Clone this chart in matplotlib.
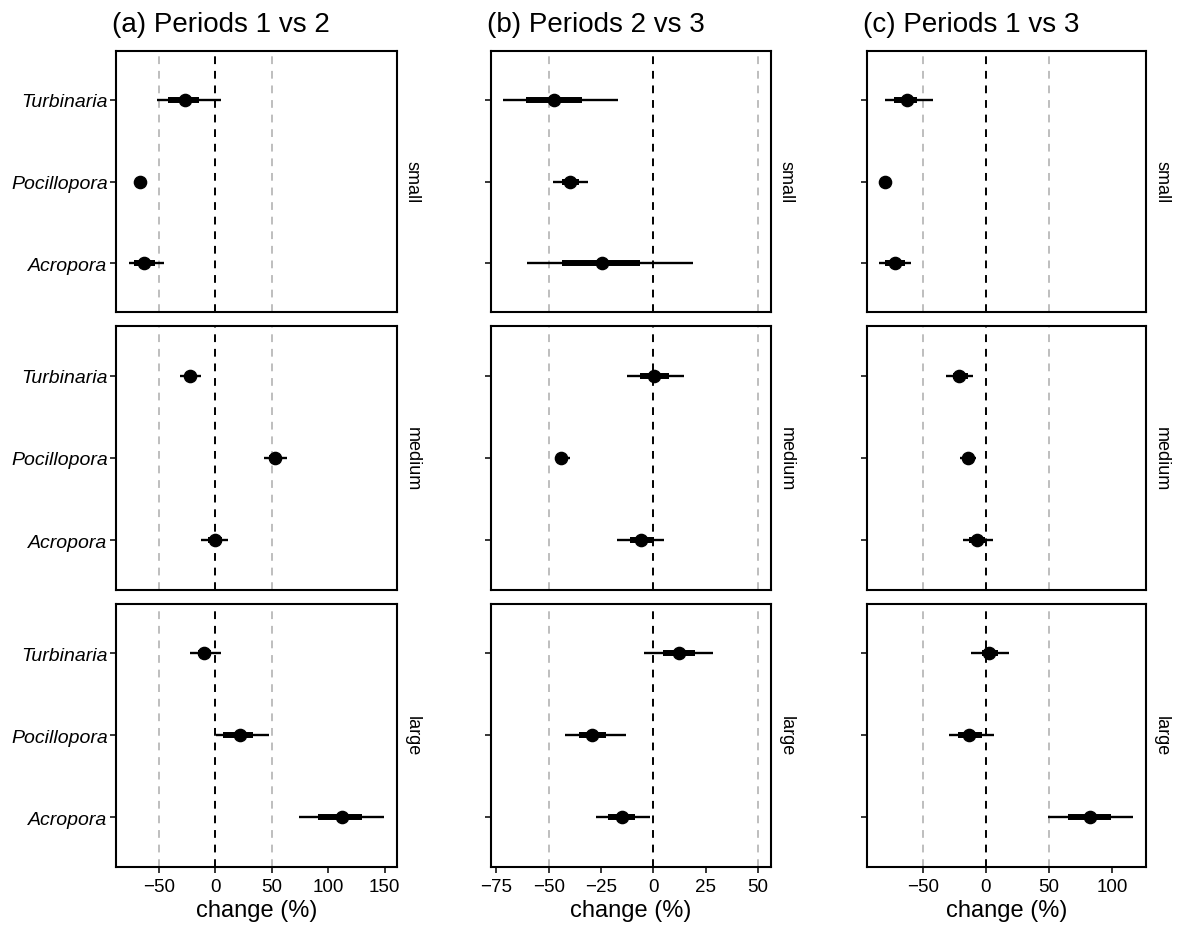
"""
Forest-style panels: % change in coral cover per genus and colony size,
for three period comparisons.
"""

import matplotlib
matplotlib.use("Agg")
import matplotlib.pyplot as plt

plt.rcParams["font.family"] = ["Liberation Sans", "DejaVu Sans"]

# ───────────────────────────────
# Data
# ───────────────────────────────
genera = ["Acropora", "Pocillopora", "Turbinaria"]   # bottom -> top
sizes = ["small", "medium", "large"]
titles = ["(a) Periods 1 vs 2", "(b) Periods 2 vs 3", "(c) Periods 1 vs 3"]

# per comparison: medians / outer interval / inner interval, rows = sizes, cols = genera
med_12 = [[-62.8, -67.2, -26.6], [-0.6, 52.9, -22.2], [112.4, 21.6, -10.1]]
lo_12 = [[-76.7, -69.0, -51.5], [-12.8, 42.9, -31.4], [74.0, 0.3, -22.6]]
hi_12 = [[-45.9, -65.5, 5.3], [11.5, 63.3, -12.4], [149.5, 47.3, 5.3]]
lo66_12 = [[-71.7, -68.5, -42.1], [-6.5, 47.5, -27.0], [91.1, 6.7, -15.4]]
hi66_12 = [[-53.9, -66.0, -14.8], [5.5, 58.0, -17.0], [129.7, 33.4, -3.6]]

med_23 = [[-24.3, -39.7, -47.3], [-5.7, -44.0, 0.3], [-14.9, -29.1, 12.4]]
lo_23 = [[-60.2, -48.1, -71.6], [-17.5, -45.7, -12.7], [-27.5, -42.2, -4.5]]
hi_23 = [[18.9, -31.1, -16.9], [4.9, -40.0, 14.8], [-1.4, -13.0, 28.7]]
lo66_23 = [[-43.8, -43.5, -61.0], [-11.0, -45.5, -6.2], [-21.6, -35.6, 4.4]]
hi66_23 = [[-6.4, -35.6, -34.3], [0.1, -42.5, 7.3], [-8.9, -22.6, 20.0]]

med_13 = [[-72.0, -80.2, -62.3], [-6.6, -14.0, -21.4], [82.3, -13.2, 2.6]]
lo_13 = [[-84.4, -81.5, -80.2], [-18.0, -20.3, -31.9], [49.0, -29.5, -11.9]]
hi_13 = [[-59.3, -79.0, -42.2], [6.1, -7.4, -10.3], [117.0, 6.3, 18.4]]
lo66_13 = [[-79.9, -81.0, -72.8], [-13.0, -17.0, -26.4], [65.1, -21.9, -3.4]]
hi66_13 = [[-64.1, -79.5, -54.8], [-1.0, -11.0, -14.5], [99.4, -3.4, 9.8]]

xticks_12 = [-50, 0, 50, 100, 150]
xticks_23 = [-75, -50, -25, 0, 25, 50]
xticks_13 = [-50, 0, 50, 100]
ref_lines = [-50, 0, 50]

comparisons = [
    (med_12, lo_12, hi_12, lo66_12, hi66_12, xticks_12),
    (med_23, lo_23, hi_23, lo66_23, hi66_23, xticks_23),
    (med_13, lo_13, hi_13, lo66_13, hi66_13, xticks_13),
]

# ───────────────────────────────
# Layout (pixels of the 1178x929 canvas)
# ───────────────────────────────
W, H = 1178, 929
col_px = [(116, 397), (490.7, 770.7), (866.7, 1146)]
row_px = [(51.7, 313.3), (327.3, 590.7), (605, 867.7)]

fig = plt.figure(figsize=(W / 100, H / 100), dpi=100)

for c, (med, lo, hi, lo66, hi66, xt) in enumerate(comparisons):
    # ggplot-style 5% expansion around data + reference lines
    vals = [v for row in lo + hi for v in row] + ref_lines
    xmin, xmax = min(vals), max(vals)
    pad = 0.05 * (xmax - xmin)

    for r, size in enumerate(sizes):
        x0, x1 = col_px[c]
        y0, y1 = row_px[r]
        ax = fig.add_axes([x0 / W, 1 - y1 / H, (x1 - x0) / W, (y1 - y0) / H])

        for xv in ref_lines:
            ax.axvline(xv, color="black" if xv == 0 else "#BEBEBE",
                       lw=1.4, ls=(0, (4, 3.5)), zorder=1)

        ypos = list(range(1, len(genera) + 1))
        ax.hlines(ypos, lo[r], hi[r], color="black", lw=1.7, zorder=2)
        ax.hlines(ypos, lo66[r], hi66[r], color="black", lw=4.3, zorder=3)
        ax.plot(med[r], ypos, "o", color="black", ms=8.8, zorder=4)

        ax.set_xlim(xmin - pad, xmax + pad)
        ax.set_ylim(0.4, len(genera) + 0.6)
        ax.set_yticks(ypos)
        if c == 0:
            ax.set_yticklabels(genera, fontstyle="italic", fontsize=14)
        else:
            ax.set_yticklabels([])
        ax.set_xticks(xt)
        if r == len(sizes) - 1:
            ax.tick_params(axis="x", labelsize=13.5, pad=4)
            ax.set_xlabel("change (%)", fontsize=17, labelpad=3)
        else:
            ax.tick_params(axis="x", bottom=False, labelbottom=False)

        ax.tick_params(axis="y", pad=2)
        ax.tick_params(direction="out", length=4, width=1.1, colors="black")
        for sp in ax.spines.values():
            sp.set_linewidth(1.5)

        ax.text(1.0 + 7 / (x1 - x0), 0.5, size, transform=ax.transAxes,
                rotation=-90, ha="left", va="center", fontsize=13)

    fig.text((col_px[c][0] - 4) / W, 1 - 31.7 / H, titles[c],
             fontsize=20, ha="left", va="baseline")

fig.savefig("out.png", dpi=100)
